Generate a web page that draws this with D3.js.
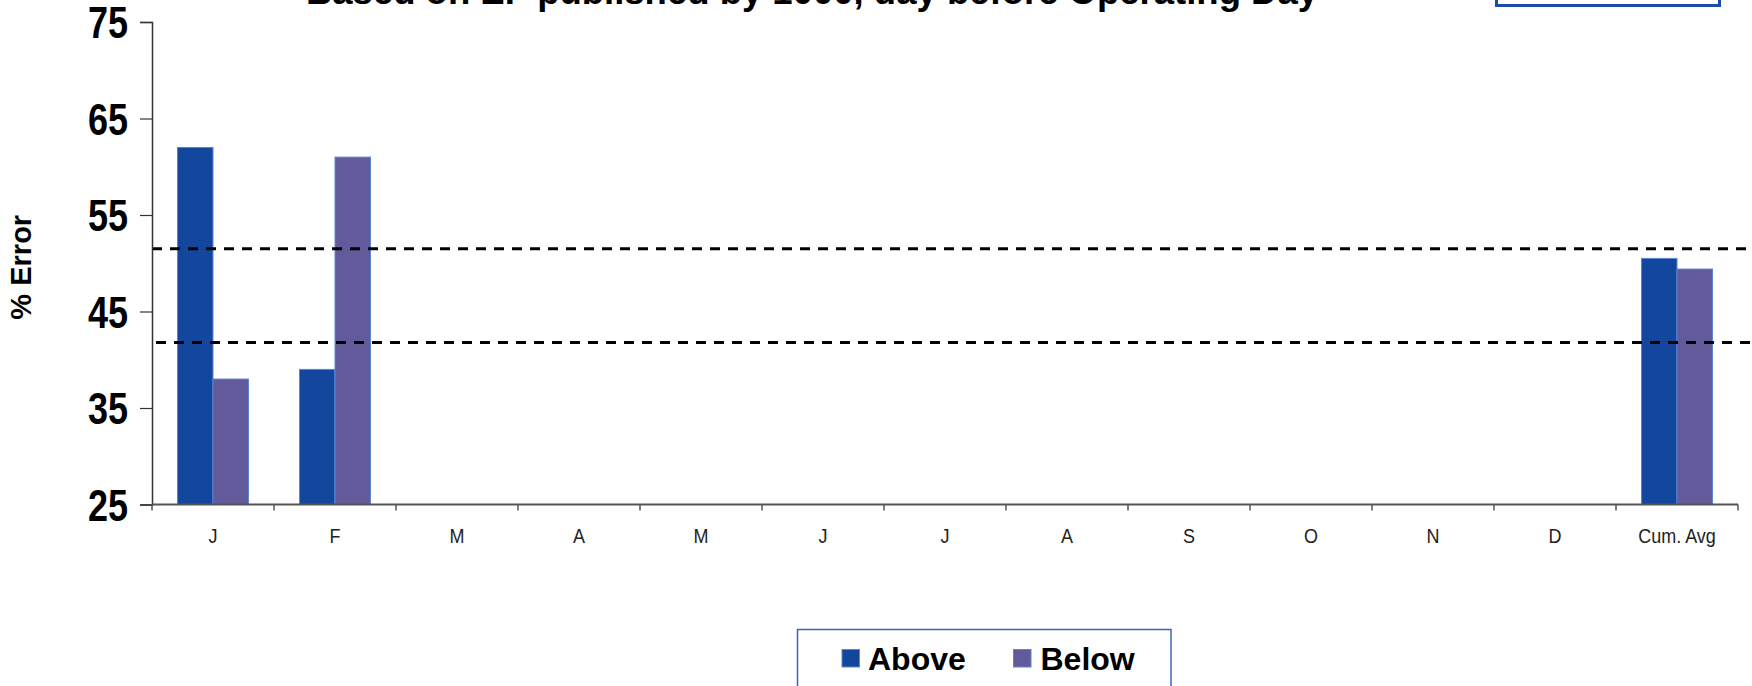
<!DOCTYPE html>
<html>
<head>
<meta charset="utf-8">
<script src="https://cdn.jsdelivr.net/npm/d3@7"></script>
<style>
  html, body { margin: 0; padding: 0; background: #fff; }
  svg { display: block; font-family: "Liberation Sans", Arial, sans-serif; }
</style>
</head>
<body>
<svg id="chart" width="1752" height="686"></svg>
<script>
// Monthly % error, split into forecasts above and below the actual value
const categories = ["J", "F", "M", "A", "M", "J", "J", "A", "S", "O", "N", "D", "Cum. Avg"];
const seriesNames = ["Above", "Below"];
const aboveValues = [62, 39, null, null, null, null, null, null, null, null, null, null, 50.5];
const belowValues = [38, 61, null, null, null, null, null, null, null, null, null, null, 49.4];
const yTicks = [25, 35, 45, 55, 65, 75];
const referenceLines = [51.5, 41.8];
const titleText = "Based on EF published by 1000, day before Operating Day";
const yLabel = "% Error";

const colors = { Above: "#12479d", Below: "#625a9b" };

const svg = d3.select("#chart");
const W = 1752, H = 686;
const plot = { left: 152, right: 1738, top: 22, bottom: 504.5 };

const x0 = d3.scaleBand()
  .domain(d3.range(categories.length))
  .range([plot.left, plot.right])
  .padding(0);

const x1 = d3.scaleBand()
  .domain(seriesNames)
  .range([0, x0.bandwidth()])
  .paddingInner(0)
  .paddingOuter(0.72);

const y = d3.scaleLinear().domain([25, 75]).range([plot.bottom, plot.top]);

// Title (sits partly above the visible area)
svg.append("text")
  .attr("x", 812)
  .attr("y", 4)
  .attr("text-anchor", "middle")
  .attr("font-weight", "bold")
  .attr("font-size", 36.5)
  .attr("fill", "#000")
  .text(titleText);

// Framed box in the upper right corner
svg.append("rect")
  .attr("x", 1496.5).attr("y", -30)
  .attr("width", 223).attr("height", 35.5)
  .attr("fill", "none")
  .attr("stroke", "#1b4ca6")
  .attr("stroke-width", 3);

// Bars
const rows = categories.map((c, i) => ({ i, Above: aboveValues[i], Below: belowValues[i] }));
const groups = svg.append("g").selectAll("g")
  .data(rows)
  .join("g")
  .attr("transform", d => `translate(${x0(d.i)},0)`);

groups.selectAll("rect")
  .data(d => seriesNames.map(k => ({ key: k, value: d[k] })).filter(v => v.value != null))
  .join("rect")
  .attr("x", d => x1(d.key))
  .attr("y", d => y(d.value))
  .attr("width", x1.bandwidth())
  .attr("height", d => y(25) - y(d.value))
  .attr("fill", d => colors[d.key])
  .attr("stroke", "#5a86d2")
  .attr("stroke-width", 1);

// Dashed reference lines
svg.append("g").selectAll("line")
  .data(referenceLines)
  .join("line")
  .attr("x1", plot.left)
  .attr("x2", W)
  .attr("y1", d => y(d))
  .attr("y2", d => y(d))
  .attr("stroke", "#000")
  .attr("stroke-width", 3)
  .attr("stroke-dasharray", "10,8")
  .attr("stroke-dashoffset", (d, i) => i === 0 ? 0 : 14);

// Y axis
const yAxis = svg.append("g")
  .attr("transform", `translate(${plot.left},0)`)
  .call(d3.axisLeft(y).tickValues(yTicks).tickSize(12).tickPadding(12).tickFormat(d3.format("d")));
yAxis.select(".domain").attr("stroke", "#333").attr("stroke-width", 1.5);
yAxis.selectAll(".tick line").attr("stroke", "#333").attr("stroke-width", 1.2);
yAxis.selectAll(".tick text")
  .attr("font-family", "'Liberation Sans', Arial, sans-serif")
  .attr("font-size", 36)
  .attr("font-weight", "bold")
  .attr("fill", "#000")
  .attr("dy", "0.36em")
  .attr("transform", "scale(1,1.22)");

svg.append("text")
  .attr("transform", `translate(31,${(plot.top + plot.bottom) / 2 + 4}) rotate(-90)`)
  .attr("text-anchor", "middle")
  .attr("font-weight", "bold")
  .attr("font-size", 29)
  .attr("fill", "#000")
  .text(yLabel);

// X axis with ticks at category boundaries
const xAxisG = svg.append("g").attr("transform", `translate(0,${plot.bottom})`);
xAxisG.append("line")
  .attr("x1", plot.left).attr("x2", plot.right)
  .attr("stroke", "#555").attr("stroke-width", 2);
const boundaries = d3.range(categories.length + 1).map(i => i < categories.length ? x0(i) : x0(i - 1) + x0.bandwidth());
xAxisG.selectAll("line.tk")
  .data(boundaries)
  .join("line")
  .attr("class", "tk")
  .attr("x1", d => d).attr("x2", d => d)
  .attr("y1", 0).attr("y2", 6)
  .attr("stroke", "#555").attr("stroke-width", 1.5);
xAxisG.selectAll("text")
  .data(categories)
  .join("text")
  .attr("transform", (d, i) => `translate(${x0(i) + x0.bandwidth() / 2},38) scale(1,1.15)`)
  .attr("text-anchor", "middle")
  .attr("font-size", 18)
  .attr("fill", "#222")
  .text(d => d);

// Legend
const legend = svg.append("g");
legend.append("rect")
  .attr("x", 797.5).attr("y", 629.5)
  .attr("width", 373.5).attr("height", 80)
  .attr("fill", "#fff")
  .attr("stroke", "#3a66b8")
  .attr("stroke-width", 1.5);
const legendItems = [
  { key: "Above", sx: 842, tx: 868 },
  { key: "Below", sx: 1013.5, tx: 1040.5 }
];
legend.selectAll("rect.sw")
  .data(legendItems)
  .join("rect")
  .attr("class", "sw")
  .attr("x", d => d.sx).attr("y", 649.5)
  .attr("width", 17.5).attr("height", 17.5)
  .attr("fill", d => colors[d.key])
  .attr("stroke", "#5a86d2")
  .attr("stroke-width", 1);
legend.selectAll("text")
  .data(legendItems)
  .join("text")
  .attr("x", d => d.tx).attr("y", 670)
  .attr("font-size", 32)
  .attr("font-weight", "bold")
  .attr("fill", "#000")
  .text(d => d.key);
</script>
</body>
</html>
